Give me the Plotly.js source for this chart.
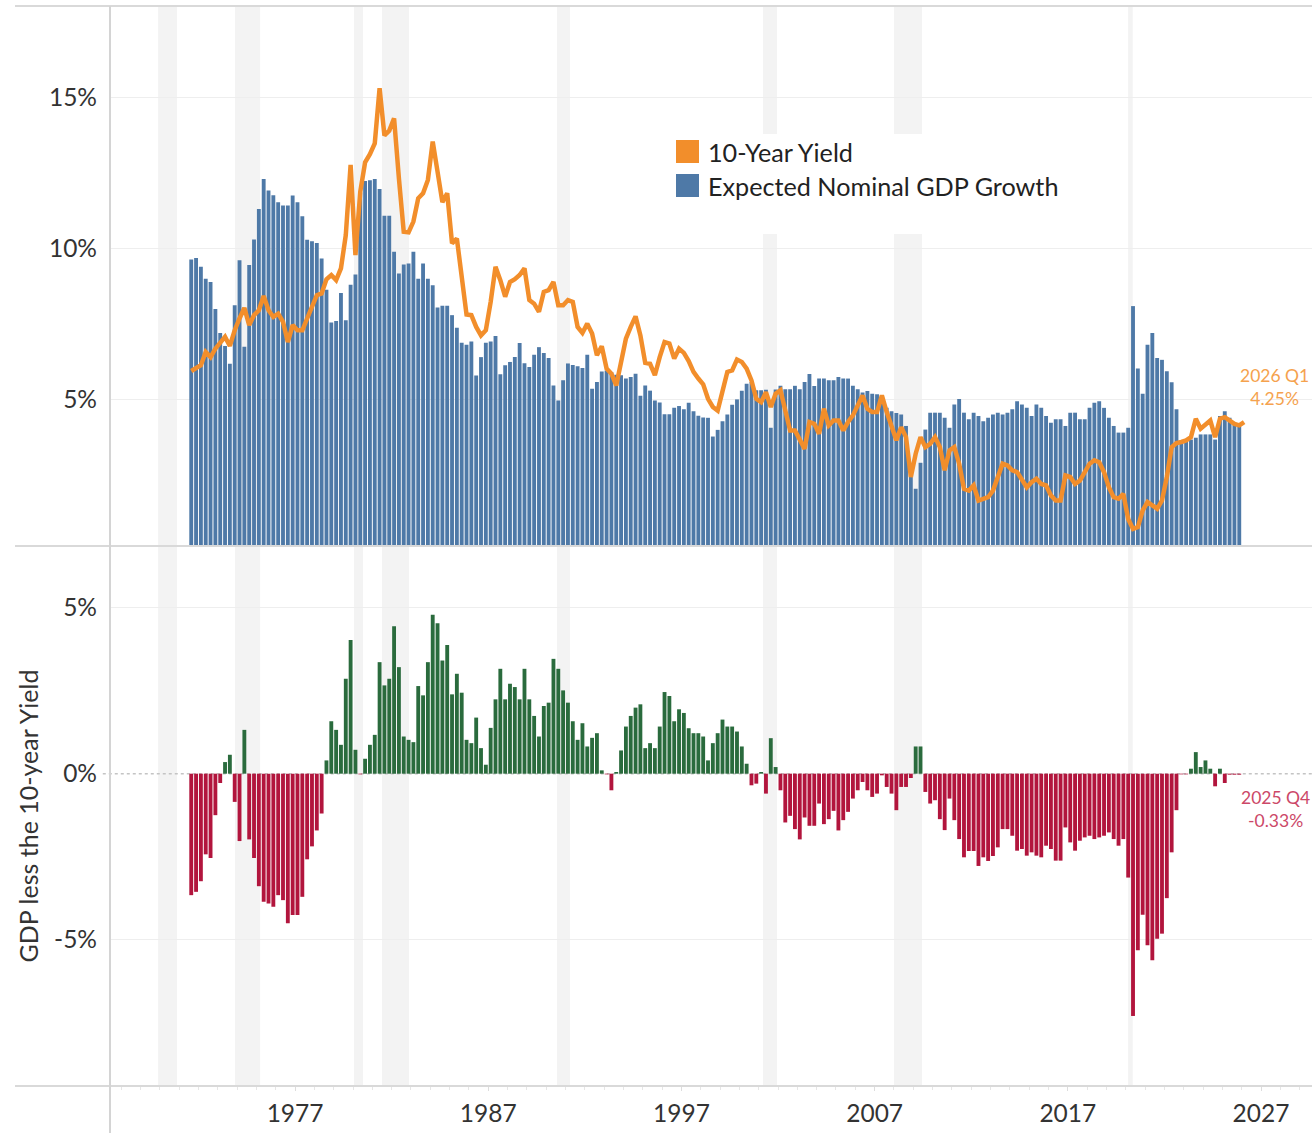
<!DOCTYPE html>
<html>
<head>
<meta charset="utf-8">
<script src="https://cdn.plot.ly/plotly-3.0.1.min.js"></script>
<style>
html,body{margin:0;padding:0;background:#ffffff;}
#chart{width:1312px;height:1133px;}
</style>
</head>
<body>
<div id="chart"></div>
<script>
// ---------------- DATA ----------------
const startYear = 1971;
const startQuarter = 3;

// Expected nominal GDP growth, quarterly (%), 1971 Q3 .. 2025 Q4
const gdpGrowth = [
 9.63,9.68,9.39,9.0,8.89,7.99,7.2,6.77,6.18,8.12,
 9.61,6.74,9.45,10.3,11.31,12.3,11.92,11.76,11.53,11.42,
 11.42,11.75,11.53,11.07,10.29,10.24,10.18,9.67,8.63,7.55,
 7.6,8.52,7.62,8.8,9.14,11.85,12.23,12.26,12.3,11.97,
 11.08,11.08,9.89,9.17,9.47,9.5,9.89,9.0,9.5,9.0,
 8.78,8.04,8.1,8.1,7.79,7.37,6.88,6.81,6.92,5.79,
 6.4,6.88,6.92,7.1,5.83,6.13,6.24,6.4,6.87,6.2,
 6.07,6.48,6.73,6.54,6.37,5.46,4.96,5.63,6.19,6.14,
 6.1,6.04,6.48,5.35,5.58,5.92,5.96,5.9,5.82,5.8,
 5.69,5.74,5.85,5.12,5.46,5.29,4.96,4.9,4.51,4.51,
 4.72,4.78,4.67,4.89,4.61,4.46,4.4,4.39,3.77,3.99,
 4.28,4.5,4.82,5.0,5.29,5.52,5.58,5.3,5.3,5.32,
 4.06,5.33,5.45,5.34,5.34,5.45,5.34,5.58,5.84,5.44,
 5.69,5.69,5.63,5.63,5.74,5.69,5.69,5.45,5.34,5.23,
 5.28,5.19,5.17,4.97,4.72,4.61,4.55,4.5,4.12,2.6,
 2.04,2.9,4.0,4.56,4.56,4.56,4.39,4.06,4.83,5.01,
 4.56,4.34,4.56,4.45,4.28,4.39,4.5,4.56,4.5,4.56,
 4.67,4.94,4.83,4.72,4.45,4.83,4.72,4.45,4.23,4.34,
 4.34,4.12,4.56,4.56,4.34,4.34,4.72,4.89,4.94,4.72,
 4.39,4.12,3.9,3.9,4.06,8.09,6.02,5.19,6.81,7.2,
 6.37,6.31,5.93,5.57,4.67,3.56,3.62,3.67,3.73,3.84,
 3.84,3.84,3.67,4.45,4.61,4.39,4.23,4.12
];

// 10-year Treasury yield, quarterly (%), 1971 Q3 .. 2026 Q1
const tenYearYield = [
 5.94,6.02,6.13,6.57,6.4,6.68,6.9,7.07,6.77,7.29,
 7.68,8.03,7.46,7.79,7.95,8.43,7.95,7.73,7.84,7.57,
 6.9,7.46,7.29,7.29,7.68,8.06,8.45,8.51,8.98,9.12,
 8.95,9.34,10.44,12.77,9.78,11.88,12.85,13.12,13.48,15.31,
 13.74,13.9,14.31,12.32,10.55,10.53,10.89,11.66,11.83,12.27,
 13.54,12.54,11.53,11.83,10.17,10.33,9.12,7.81,7.79,7.4,
 7.12,7.29,8.23,9.39,8.95,8.4,8.89,8.98,9.12,9.34,
 8.29,8.17,7.9,8.56,8.62,8.89,8.12,8.12,8.29,8.23,
 7.4,7.2,7.51,7.18,6.46,6.76,6.02,5.85,5.46,6.18,
 7.01,7.4,7.75,7.12,6.21,6.18,5.8,6.4,6.9,6.85,
 6.35,6.68,6.54,6.27,5.91,5.69,5.5,5.02,4.75,4.63,
 5.3,5.91,5.96,6.32,6.24,6.02,5.63,5.02,4.91,5.24,
 4.75,5.19,5.3,4.63,3.97,3.97,3.69,3.36,4.25,4.19,
 3.86,4.69,4.14,4.3,4.3,3.97,4.25,4.47,4.8,5.13,
 4.69,4.58,4.58,5.13,4.58,4.08,3.65,4.08,3.75,2.43,
 3.2,3.75,3.42,3.53,3.75,3.42,2.65,3.31,3.42,2.87,
 2.04,1.98,2.15,1.65,1.7,1.76,1.98,2.48,2.87,2.81,
 2.65,2.59,2.37,2.09,2.26,2.37,2.2,2.15,1.82,1.65,
 1.65,2.48,2.43,2.2,2.31,2.59,2.87,2.98,2.92,2.59,
 2.09,1.76,1.71,1.87,1.04,0.71,0.77,1.32,1.6,1.49,
 1.38,1.65,2.43,3.42,3.55,3.59,3.64,3.75,4.36,4.03,
 4.19,4.3,3.75,4.36,4.41,4.3,4.19,4.14,4.25
];

// Lower panel values (%), 1971 Q3 .. 2025 Q4
const spread = [
 -3.66,-3.56,-3.24,-2.43,-2.54,-1.25,-0.28,0.35,0.57,-0.85,
 -2.03,1.32,-1.98,-2.54,-3.39,-3.86,-3.91,-4.01,-3.66,-3.81,
 -4.51,-4.26,-4.26,-3.71,-2.58,-2.19,-1.71,-1.2,0.4,1.58,
 1.32,0.87,2.86,4.03,0.72,-0.02,0.45,0.87,1.17,3.36,
 2.66,2.86,4.44,3.21,1.12,1.02,0.95,2.64,2.36,3.36,
 4.79,4.53,3.41,3.88,2.39,3.01,2.44,1.02,0.92,1.69,
 0.77,0.27,1.38,2.24,3.16,2.24,2.71,2.61,2.24,3.16,
 2.24,1.74,1.12,2.04,2.14,3.46,3.16,2.51,2.14,1.58,
 1.02,1.52,0.82,1.08,1.22,0.1,-0.02,-0.5,0.05,0.7,
 1.42,1.74,1.99,2.09,0.77,0.92,0.77,1.42,2.46,2.34,
 1.58,1.94,1.83,1.37,1.22,1.22,1.12,0.4,0.92,1.22,
 1.63,1.42,1.42,1.27,0.82,0.3,-0.35,-0.3,0.05,-0.6,
 1.07,0.2,-0.5,-1.47,-1.27,-1.67,-1.98,-1.32,-1.57,-1.57,
 -0.9,-1.52,-1.37,-1.12,-1.71,-1.4,-1.15,-0.75,-0.5,-0.25,
 -0.5,-0.7,-0.6,-0.05,-0.4,-0.6,-1.1,-0.4,-0.4,-0.13,
 0.82,0.82,-0.55,-0.9,-0.8,-1.37,-1.7,-0.75,-1.4,-1.97,
 -2.52,-2.33,-2.33,-2.78,-2.52,-2.63,-2.48,-2.22,-1.67,-1.67,
 -1.87,-2.32,-2.27,-2.47,-2.37,-2.47,-2.52,-2.17,-2.27,-2.62,
 -2.62,-1.62,-2.07,-2.32,-2.02,-1.92,-1.87,-1.97,-1.92,-1.87,
 -1.77,-1.97,-2.17,-1.97,-3.13,-7.3,-5.32,-4.25,-5.17,-5.62,
 -4.97,-4.82,-3.75,-2.37,-1.1,-0.02,-0.02,0.15,0.65,0.2,
 0.4,0.15,-0.38,0.15,-0.28,-0.03,-0.03,-0.03
];

// Recession periods (decimal years)
const recessionStart = [1969.91, 1973.89, 1980.05, 1981.50, 1990.56, 2001.22, 2008.00, 2020.12];
const recessionEnd   = [1970.89, 1975.19, 1980.52, 1982.90, 1991.23, 2001.95, 2009.45, 2020.36];

const xTickValues = [1977, 1987, 1997, 2007, 2017, 2027];
const xTickLabels = ["1977", "1987", "1997", "2007", "2017", "2027"];
const topTickValues = [5, 10, 15];
const topTickLabels = ["5%", "10%", "15%"];
const bottomTickValues = [-5, 0, 5];
const bottomTickLabels = ["-5%", "0%", "5%"];

const legendLabels = ["10-Year Yield", "Expected Nominal GDP Growth"];
const yieldLabel = ["2026 Q1", "4.25%"];
const spreadLabel = ["2025 Q4", "-0.33%"];
const yTitle = "GDP less the 10-year Yield";

// ---------------- HELPERS ----------------
function quarterMid(n) {
  const xs = [];
  for (let i = 0; i < n; i++) {
    const q = startQuarter - 1 + i;
    xs.push(startYear + Math.floor(q / 4) + (q % 4) * 0.25 + 0.125);
  }
  return xs;
}

const BLUE = "#4e79a7", ORANGE = "#f28e2b", GREEN = "#2a6b3d", RED = "#b2153d";
const FONT = 'Lato, "Open Sans", "DejaVu Sans", sans-serif';
const TICK_SIZE = 24.5;
const W = 1312, H = 1133, ML = 110, MR = 0, MT = 6, MB = 47;
const PW = W - ML - MR, PH = H - MT - MB;
const px = v => (v - ML) / PW;             // pixel x -> paper
const py = v => (H - MB - v) / PH;          // pixel y -> paper

const xRange = [1967.42, 2029.64];

// ---------------- TRACES ----------------
const traces = [
  {
    type: "bar", x: quarterMid(gdpGrowth.length), y: gdpGrowth,
    xaxis: "x", yaxis: "y", name: legendLabels[1], showlegend: false,
    marker: { color: BLUE, line: { width: 0 } }, hoverinfo: "x+y"
  },
  {
    type: "scatter", mode: "lines", x: quarterMid(tenYearYield.length), y: tenYearYield,
    xaxis: "x", yaxis: "y", name: legendLabels[0], showlegend: false,
    line: { color: ORANGE, width: 4.5, shape: "linear" }
  },
  {
    type: "bar", x: quarterMid(spread.length), y: spread,
    xaxis: "x2", yaxis: "y2", name: yTitle, showlegend: false,
    marker: { color: spread.map(v => v >= 0 ? GREEN : RED), line: { width: 0 } }
  }
];

// ---------------- SHAPES ----------------
const shapes = [];
for (let i = 0; i < recessionStart.length; i++) {
  shapes.push({
    type: "rect", xref: "x", yref: "paper", x0: recessionStart[i], x1: recessionEnd[i],
    y0: 0, y1: 1, fillcolor: "#f3f3f3", line: { width: 0 }, layer: "below"
  });
}
// white legend box
shapes.push({ type: "rect", xref: "paper", yref: "paper", x0: px(655), x1: px(1085), y0: py(234), y1: py(134),
  fillcolor: "#ffffff", line: { width: 0 }, layer: "below" });
// dotted zero line (lower panel)
shapes.push({ type: "line", xref: "paper", yref: "y2", x0: -0.006, x1: 1, y0: 0, y1: 0,
  line: { color: "#c4c4c4", width: 1.5, dash: "dot" }, layer: "between" });
// panel frame lines
[6, 546, 1086].forEach(yy => shapes.push({
  type: "line", xref: "paper", yref: "paper", x0: px(15), x1: 1, y0: py(yy), y1: py(yy),
  line: { color: "#d9d9d9", width: 2 }, layer: "above"
}));
shapes.push({ type: "line", xref: "paper", yref: "paper", x0: 0, x1: 0, y0: py(1133), y1: py(6),
  line: { color: "#d4d4d4", width: 2 }, layer: "above" });
// legend swatches
shapes.push({ type: "rect", xref: "paper", yref: "paper", x0: px(676), x1: px(699), y0: py(163), y1: py(140),
  fillcolor: ORANGE, line: { width: 0 }, layer: "above" });
shapes.push({ type: "rect", xref: "paper", yref: "paper", x0: px(676), x1: px(699), y0: py(197), y1: py(174),
  fillcolor: BLUE, line: { width: 0 }, layer: "above" });

// ---------------- ANNOTATIONS ----------------
const annotations = [
  { xref: "paper", yref: "paper", x: px(706), y: py(152), xanchor: "left", yanchor: "middle",
    text: legendLabels[0], showarrow: false, font: { family: FONT, size: 25.2, color: "#222222" } },
  { xref: "paper", yref: "paper", x: px(706), y: py(186), xanchor: "left", yanchor: "middle",
    text: legendLabels[1], showarrow: false, font: { family: FONT, size: 25.2, color: "#222222" } },
  { xref: "paper", yref: "y", x: px(1274), y: tenYearYield[tenYearYield.length - 1] + 1.15,
    xanchor: "center", yanchor: "middle", align: "center",
    text: yieldLabel.join("<br>"), showarrow: false, font: { family: FONT, size: 17.5, color: "#f5a24e" } },
  { xref: "paper", yref: "y2", x: px(1275), y: -1.05,
    xanchor: "center", yanchor: "middle", align: "center",
    text: spreadLabel.join("<br>"), showarrow: false, font: { family: FONT, size: 17.5, color: "#cc4868" } }
];

// ---------------- LAYOUT ----------------
const layout = {
  width: W, height: H,
  margin: { l: ML, r: MR, t: MT, b: MB, pad: 0 },
  paper_bgcolor: "#ffffff", plot_bgcolor: "rgba(0,0,0,0)",
  font: { family: FONT, color: "#333333", size: TICK_SIZE },
  showlegend: false, bargap: 0.2,
  xaxis: { domain: [0, 1], anchor: "y", range: xRange, showticklabels: false, showgrid: false,
    zeroline: false, showline: false, ticks: "", fixedrange: true, automargin: false },
  yaxis: { domain: [0.5, 1], anchor: "x", range: [0.144, 18.03], tickmode: "array",
    tickvals: topTickValues, ticktext: topTickLabels, showgrid: true, gridcolor: "#eeeeee", gridwidth: 1.5,
    zeroline: false, showline: false, ticks: "", ticklabelstandoff: 12,
    tickfont: { family: FONT, size: TICK_SIZE, color: "#333333" }, automargin: false },
  xaxis2: { domain: [0, 1], anchor: "y2", range: xRange, tickmode: "array", tickvals: xTickValues,
    ticktext: xTickLabels, showgrid: false, zeroline: false, showline: false,
    ticks: "outside", ticklen: 4, tickcolor: "#dddddd", ticklabelstandoff: 2,
    minor: { tickmode: "linear", tick0: 1967, dtick: 1, ticks: "outside", ticklen: 3, tickcolor: "#e6e6e6", showgrid: false },
    tickfont: { family: FONT, size: TICK_SIZE, color: "#333333" }, automargin: false },
  yaxis2: { domain: [0, 0.5], anchor: "x2", range: [-9.41, 6.86], tickmode: "array",
    tickvals: bottomTickValues, ticktext: bottomTickLabels, showgrid: false,
    minor: { tickmode: "array", tickvals: [-5, 5], showgrid: true, gridcolor: "#eeeeee", gridwidth: 1.5, ticks: "" },
    zeroline: false, showline: false, ticks: "", ticklabelstandoff: 12,
    tickfont: { family: FONT, size: TICK_SIZE, color: "#333333" },
    title: { text: yTitle, font: { family: FONT, size: 25, color: "#333333" }, standoff: 8 },
    automargin: false },
  shapes: shapes,
  annotations: annotations
};

Plotly.newPlot("chart", traces, layout, { displayModeBar: false, responsive: false, staticPlot: true });
</script>
</body>
</html>
